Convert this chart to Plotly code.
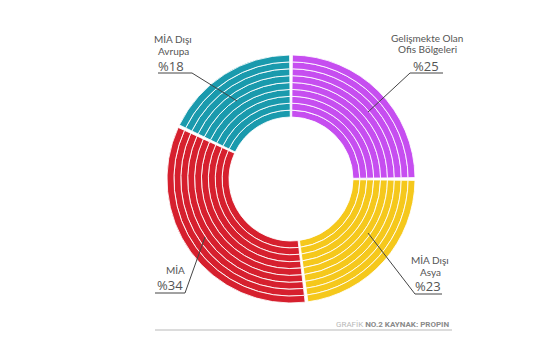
import numpy as np
import plotly.graph_objects as go

# ---- data ----
categories = ["Gelişmekte Olan|Ofis Bölgeleri", "MİA Dışı|Asya", "MİA", "MİA Dışı|Avrupa"]
shares = [25, 23, 34, 18]
pct_labels = ["%25", "%23", "%34", "%18"]
colors = ["#C64EF0", "#F5C81C", "#D6202E", "#1A9AAD"]

# ---- style / layout constants ----
OFF = 8                     # browser default body margin
W, H = 555 - OFF, 355 - OFF  # figure size so the page fits the window
CX, CY = 291, 179           # donut centre in window pixels
R_AX = 125
R_IN, R_OUT = 62, 124
N_RINGS = 9
GAP = 1.3

angles = np.array(shares, dtype=float) / sum(shares) * 360
ends = np.cumsum(angles)
starts = ends - angles
centers = starts + angles / 2
dr = (R_OUT - R_IN) / N_RINGS

fig = go.Figure()
for k in range(N_RINGS):
    fig.add_trace(go.Barpolar(
        theta=centers,
        r=[dr] * len(shares),
        base=[R_IN + k * dr] * len(shares),
        width=angles - GAP,
        marker=dict(color=colors, line=dict(color="rgba(255,255,255,0.85)", width=1)),
        hoverinfo="skip", showlegend=False,
    ))


def px(x, y):
    """window pixel -> paper coords"""
    return (x - OFF) / W, 1 - (y - OFF) / H


annotations = []
shapes = []
TXT = "#555555"
name_font = dict(family="Lato, Open Sans, sans-serif", size=10, color=TXT)
pct_font = dict(family="Open Sans, Lato, sans-serif", size=13, color=TXT)

label_layout = {
    0: dict(x=427, y0=38, pct=(426, 65.5), ul=(410, 443, 73), lead=((410, 73), (368, 112))),
    1: dict(x=430, y0=260, pct=(428, 286), ul=(415, 442, 294), lead=((415, 294), (368, 233))),
    2: dict(x=175, y0=270, pct=(170, 285), ul=(155, 185, 293), lead=((185, 293), (205, 237))),
    3: dict(x=173, y0=39, pct=(171, 65.5), ul=(158, 192, 73), lead=((192, 73), (237, 101))),
}

for i, cat in enumerate(categories):
    L = label_layout[i]
    for j, line in enumerate(cat.split("|")):
        x, y = px(L["x"], L["y0"] + j * 11.5)
        annotations.append(dict(x=x, y=y, xref="paper", yref="paper", text=line,
                                showarrow=False, font=name_font, xanchor="center", yanchor="middle"))
    x, y = px(*L["pct"])
    annotations.append(dict(x=x, y=y, xref="paper", yref="paper", text=pct_labels[i],
                            showarrow=False, font=pct_font, xanchor="center", yanchor="middle"))
    ux0, ux1, uy = L["ul"]
    a = px(ux0, uy); b = px(ux1, uy)
    shapes.append(dict(type="line", xref="paper", yref="paper", x0=a[0], y0=a[1], x1=b[0], y1=b[1],
                       line=dict(color="#444444", width=1)))
    (lx0, ly0), (lx1, ly1) = L["lead"]
    a = px(lx0, ly0); b = px(lx1, ly1)
    shapes.append(dict(type="line", xref="paper", yref="paper", x0=a[0], y0=a[1], x1=b[0], y1=b[1],
                       line=dict(color="#444444", width=1)))

# footer
x, y = px(451, 324)
annotations.append(dict(x=x, y=y, xref="paper", yref="paper",
                        text="<span style='color:#b8b8b8'>GRAFİK</span> <b>NO.2 KAYNAK: PROPIN</b>",
                        showarrow=False, xanchor="right", yanchor="middle",
                        font=dict(family="Liberation Sans Narrow, Roboto, sans-serif", size=8, color="#8a8a8a")))
a = px(155, 330); b = px(452, 330)
shapes.append(dict(type="line", xref="paper", yref="paper", x0=a[0], y0=a[1], x1=b[0], y1=b[1],
                   line=dict(color="#d0d0d0", width=1.5)))

fig.update_layout(
    width=W, height=H,
    margin=dict(l=0, r=0, t=0, b=0),
    paper_bgcolor="white", plot_bgcolor="white",
    polar=dict(
        domain=dict(x=[(CX - OFF - R_AX) / W, (CX - OFF + R_AX) / W],
                    y=[(H - (CY - OFF) - R_AX) / H, (H - (CY - OFF) + R_AX) / H]),
        bgcolor="white",
        angularaxis=dict(direction="clockwise", rotation=90, visible=False),
        radialaxis=dict(range=[0, R_AX], visible=False),
        bargap=0,
    ),
    annotations=annotations,
    shapes=shapes,
)

fig.write_html("out.html")
